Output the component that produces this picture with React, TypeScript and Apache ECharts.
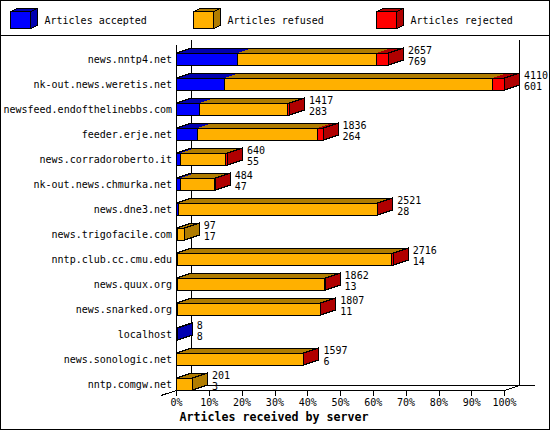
import React, { useEffect, useRef } from "react";
import * as echarts from "echarts";

const servers = ["news.nntp4.net","nk-out.news.weretis.net","newsfeed.endofthelinebbs.com","feeder.erje.net","news.corradoroberto.it","nk-out.news.chmurka.net","news.dne3.net","news.trigofacile.com","nntp.club.cc.cmu.edu","news.quux.org","news.snarked.org","localhost","news.sonologic.net","nntp.comgw.net"];
const received = [2657,4110,1417,1836,640,484,2521,97,2716,1862,1807,8,1597,201];
const accepted = [769,601,283,264,55,47,28,17,14,13,11,8,6,3];
const refused = [1733,3354,1114,1497,555,429,2485,80,2682,1841,1788,0,1585,198];
const rejected = [155,155,20,75,30,8,8,0,20,8,8,0,6,0];
const legendNames = ["Articles accepted","Articles refused","Articles rejected"];
const axisTitle = "Articles received by server";
const maxReceived = 4110;

const FRONT = ["#0000ff","#ffb000","#ff0000"];
const DARK = ["#0000b0","#b07c00","#b00000"];
const FONT = "'DejaVu Sans Mono', monospace";
const DX = 15, DY = 5;
const snap = (v: number) => Math.round(v - 0.5) + 0.5;

function renderBar(params: any, api: any) {
  const total = api.value(0) as number;
  const row = api.value(1) as number;
  const segs = [api.value(2), api.value(3), api.value(4)] as number[];
  const cy = api.coord([0, row])[1] as number;
  const x0 = snap(api.coord([0, row])[0]);
  const h = api.size([0, 1])[1] * 0.48;
  const top = cy - h / 2, bot = cy + h / 2;
  const kids: any[] = [];
  let acc = 0;
  const edges: { a: number; b: number; i: number }[] = [];
  segs.forEach((s, i) => {
    if (s <= 0) return;
    const a = snap(api.coord([acc, row])[0]);
    acc += s;
    const b = snap(api.coord([acc, row])[0]);
    edges.push({ a, b, i });
  });
  const endX = edges[edges.length - 1].b;
  edges.forEach(({ a, b, i }) => {
    kids.push({ type: "polygon", shape: { points: [[a, top],[a + DX, top - DY],[b + DX, top - DY],[b, top]] }, style: { fill: DARK[i], stroke: null } });
  });
  kids.push({ type: "polygon", shape: { points: [[x0, top],[x0 + DX, top - DY],[endX + DX, top - DY],[endX, top]] }, style: { fill: "none", stroke: "#000", lineWidth: 1 } });
  edges.forEach(({ a, b, i }) => {
    kids.push({ type: "rect", shape: { x: a, y: top, width: b - a, height: h }, style: { fill: FRONT[i], stroke: "#000", lineWidth: 1 } });
  });
  const lastI = edges[edges.length - 1].i;
  kids.push({ type: "polygon", shape: { points: [[endX, top],[endX + DX, top - DY],[endX + DX, bot - DY],[endX, bot]] }, style: { fill: DARK[lastI], stroke: "#000", lineWidth: 1 } });
  const lx = api.coord([total, row])[0] + 19.5;
  kids.push({ type: "text", style: { x: lx, y: cy - 9, text: String(total), font: `10px ${FONT}`, fill: "#000", align: "left", verticalAlign: "middle" } });
  kids.push({ type: "text", style: { x: lx, y: cy + 2, text: String(segs[0]), font: `10px ${FONT}`, fill: "#000", align: "left", verticalAlign: "middle" } });
  return { type: "group", children: kids };
}

function legendGraphic() {
  const xs = [10.5, 193.5, 376.5];
  const tx = [44.5, 227.5, 410.5];
  const out: any[] = [];
  legendNames.forEach((n, i) => {
    const x = xs[i], y = 11.5, w = 20, h = 17, dx = 7, dy = 3;
    out.push({ type: "polygon", shape: { points: [[x, y],[x + dx, y - dy],[x + w + dx, y - dy],[x + w, y]] }, style: { fill: DARK[i], stroke: "#000", lineWidth: 1 } });
    out.push({ type: "polygon", shape: { points: [[x + w, y],[x + w + dx, y - dy],[x + w + dx, y + h - dy],[x + w, y + h]] }, style: { fill: DARK[i], stroke: "#000", lineWidth: 1 } });
    out.push({ type: "rect", shape: { x, y, width: w, height: h }, style: { fill: FRONT[i], stroke: "#000", lineWidth: 1 } });
    out.push({ type: "text", x: tx[i], y: 20, style: { text: n, font: `10px ${FONT}`, fill: "#000", textAlign: "left", textVerticalAlign: "middle" } });
  });
  return out;
}

const ln = (x1: number, y1: number, x2: number, y2: number) => ({
  type: "line",
  shape: { x1, y1, x2, y2 },
  style: { stroke: "#000", lineWidth: 1 },
});

export default function App() {
  const ref = useRef<HTMLDivElement>(null);
  useEffect(() => {
    document.body.style.margin = "0";
    const chart = echarts.init(ref.current!, null, { renderer: "svg" });
    chart.setOption({
      animation: false,
      backgroundColor: "#fff",
      grid: { left: 176.5, width: 328, top: 46.5, height: 350 },
      xAxis: {
        type: "value",
        min: 0,
        max: maxReceived,
        interval: maxReceived / 10,
        offset: -6,
        splitLine: { show: false },
        axisLine: { show: true, lineStyle: { color: "#000", width: 1 } },
        axisTick: { show: true, length: 5, lineStyle: { color: "#000", width: 1 } },
        axisLabel: {
          color: "#000",
          fontFamily: FONT,
          fontSize: 10,
          margin: 7,
          formatter: (v: number) => `${Math.round((v / maxReceived) * 100)}%`,
        },
      },
      yAxis: {
        type: "category",
        inverse: true,
        data: servers,
        axisLine: { show: false },
        axisTick: { show: false },
        splitLine: { show: false },
        axisLabel: { color: "#000", fontFamily: FONT, fontSize: 10, margin: 4.5, interval: 0 },
      },
      graphic: [
        { type: "rect", shape: { x: 0.5, y: 0.5, width: 549, height: 429 }, style: { fill: "none", stroke: "#000", lineWidth: 1 } },
        ln(0, 35.5, 550, 35.5),
        ln(176.5, 45, 176.5, 390.5),
        ln(191.5, 40, 191.5, 385.5),
        ln(519.5, 40, 519.5, 385.5),
        ln(191.5, 385.5, 535, 385.5),
        ln(191.5, 385.5, 161, 395.5),
        ln(504.5, 390.5, 519.5, 385.5),
        { type: "text", x: 274, y: 417, style: { text: axisTitle, font: `bold 11.65px ${FONT}`, fill: "#000", textAlign: "center", textVerticalAlign: "middle" } },
        ...legendGraphic(),
      ],
      series: [
        {
          type: "custom",
          renderItem: renderBar,
          encode: { x: 0, y: 1 },
          silent: true,
          data: servers.map((_, i) => [received[i], i, accepted[i], refused[i], rejected[i]]),
        },
      ],
    });
    return () => chart.dispose();
  }, []);
  return (
    <>
      <style>{`.c svg path, .c svg line, .c svg rect, .c svg polygon { shape-rendering: crispEdges; }`}</style>
      <div className="c" ref={ref} style={{ position: "fixed", left: 0, top: 0, width: 550, height: 430 }} />
    </>
  );
}
